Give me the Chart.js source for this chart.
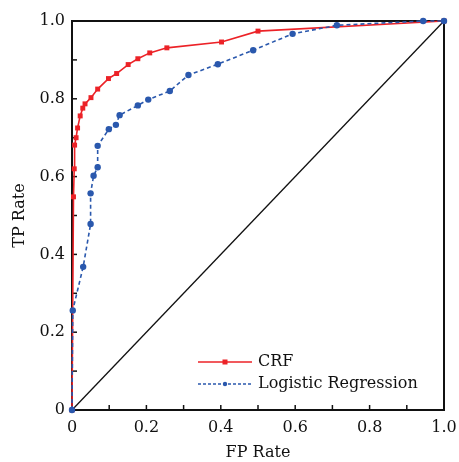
<!DOCTYPE html>
<html><head><meta charset="utf-8">
<script src="https://cdn.jsdelivr.net/npm/chart.js@4/dist/chart.umd.min.js"></script>
<style>html,body{margin:0;padding:0;background:#fff}#wrap{width:459px;height:462px}</style>
</head><body><div id="wrap"><canvas id="c" width="459" height="462"></canvas></div>
<script>
const crfX = [0, 0.004, 0.006, 0.007, 0.011, 0.015, 0.022, 0.029, 0.035, 0.051, 0.069, 0.098, 0.120, 0.151, 0.177, 0.209, 0.255, 0.402, 0.500, 1.0];
const crfY = [0, 0.548, 0.620, 0.681, 0.700, 0.725, 0.756, 0.776, 0.787, 0.803, 0.825, 0.852, 0.865, 0.888, 0.903, 0.918, 0.931, 0.946, 0.974, 1.0];
const lrX = [0, 0.002, 0.030, 0.050, 0.050, 0.058, 0.069, 0.069, 0.099, 0.118, 0.128, 0.177, 0.205, 0.263, 0.313, 0.392, 0.487, 0.593, 0.712, 0.944, 1.0];
const lrY = [0, 0.256, 0.368, 0.478, 0.557, 0.602, 0.624, 0.679, 0.722, 0.733, 0.758, 0.783, 0.798, 0.820, 0.861, 0.889, 0.925, 0.967, 0.989, 1.0, 1.0];
const diagX = [0, 1];
const diagY = [0, 1];
const seriesNames = ['CRF', 'Logistic Regression'];
const tickValues = [0, 0.2, 0.4, 0.6, 0.8, 1.0];

const RED = '#ec2227';
const BLUE = '#2a58ad';
const FONT = 'DejaVu Serif';

function pts(xs, ys){ return xs.map((x,i)=>({x:x, y:ys[i]})); }
function fmt(v){
  const k = Math.round(v*10);
  if (k % 2 !== 0) return '';
  return k === 0 ? '0' : (k/10).toFixed(1);
}

const frame = {
  id: 'frame',
  beforeDatasetsDraw(chart){
    const ctx = chart.ctx, a = chart.chartArea;
    const xs = chart.scales.x, ys = chart.scales.y;
    ctx.save();
    ctx.strokeStyle = '#111';
    ctx.lineWidth = 1.5;
    for (let i=1;i<10;i++){
      const v = i/10;
      const px = xs.getPixelForValue(v);
      ctx.beginPath(); ctx.moveTo(px, a.bottom); ctx.lineTo(px, a.bottom-5); ctx.stroke();
      const py = ys.getPixelForValue(v);
      ctx.beginPath(); ctx.moveTo(a.left, py); ctx.lineTo(a.left+5, py); ctx.stroke();
    }
    ctx.lineWidth = 2;
    ctx.strokeRect(a.left, a.top, a.right-a.left, a.bottom-a.top);
    ctx.restore();
  },
  afterDraw(chart){
    const ctx = chart.ctx, a = chart.chartArea;
    ctx.save();
    const lx = a.left + 126, ly1 = a.top + 341, ly2 = a.top + 363;
    ctx.lineWidth = 1.5;
    ctx.strokeStyle = RED;
    ctx.beginPath(); ctx.moveTo(lx, ly1); ctx.lineTo(lx+54, ly1); ctx.stroke();
    ctx.fillStyle = RED;
    ctx.fillRect(lx+27-2.5, ly1-2.5, 5, 5);
    ctx.strokeStyle = BLUE;
    ctx.setLineDash([3,2]);
    ctx.beginPath(); ctx.moveTo(lx, ly2); ctx.lineTo(lx+54, ly2); ctx.stroke();
    ctx.setLineDash([]);
    ctx.fillStyle = BLUE;
    ctx.beginPath(); ctx.arc(lx+27, ly2, 2.2, 0, Math.PI*2); ctx.fill();
    ctx.fillStyle = '#111';
    ctx.font = '16px "' + FONT + '"';
    ctx.textBaseline = 'middle';
    ctx.fillText(seriesNames[0], lx+60, ly1);
    ctx.fillText(seriesNames[1], lx+60, ly2);
    ctx.restore();
  }
};

new Chart(document.getElementById('c'), {
  type: 'scatter',
  data: {
    datasets: [
      { label: 'diag', data: pts(diagX, diagY), showLine: true, borderColor: '#111', borderWidth: 1.3, pointRadius: 0, order: 3, clip: false },
      { label: seriesNames[1], data: pts(lrX, lrY), showLine: true, borderColor: BLUE, backgroundColor: BLUE, borderWidth: 1.6, borderDash: [4,3], pointStyle: 'circle', pointRadius: 3.2, pointBorderWidth: 0, order: 1, clip: false },
      { label: seriesNames[0], data: pts(crfX, crfY), showLine: true, borderColor: RED, backgroundColor: RED, borderWidth: 1.6, pointStyle: 'rect', pointRadius: 3.5, pointBorderWidth: 0, order: 2, clip: false }
    ]
  },
  options: {
    responsive: false,
    animation: false,
    layout: { padding: { top: 21, right: 15, left: 0, bottom: 0 }, autoPadding: false },
    plugins: { legend: { display: false }, tooltip: { enabled: false } },
    scales: {
      x: {
        type: 'linear', min: 0, max: 1,
        grid: { display: false, drawTicks: false },
        border: { display: false },
        afterFit(s){ s.height = 52; s.paddingLeft = 0; s.paddingRight = 0; },
        afterBuildTicks(s){ s.ticks = tickValues.map(v=>({value:v})); },
        ticks: { callback: fmt, color: '#111', font: { family: FONT, size: 16 }, padding: 8, maxRotation: 0, autoSkip: false },
        title: { display: true, text: 'FP Rate', color: '#111', font: { family: FONT, size: 16 }, padding: { top: 2, bottom: 0 } }
      },
      y: {
        type: 'linear', min: 0, max: 1,
        grid: { display: false, drawTicks: false },
        border: { display: false },
        afterFit(s){ s.width = 72; s.paddingTop = 0; s.paddingBottom = 0; },
        afterBuildTicks(s){ s.ticks = tickValues.map(v=>({value:v})); },
        ticks: { callback: fmt, color: '#111', font: { family: FONT, size: 16 }, padding: 7, autoSkip: false },
        title: { display: true, text: 'TP Rate', color: '#111', font: { family: FONT, size: 16 }, padding: { top: 10, bottom: 0 } }
      }
    }
  },
  plugins: [frame]
});
</script></body></html>
